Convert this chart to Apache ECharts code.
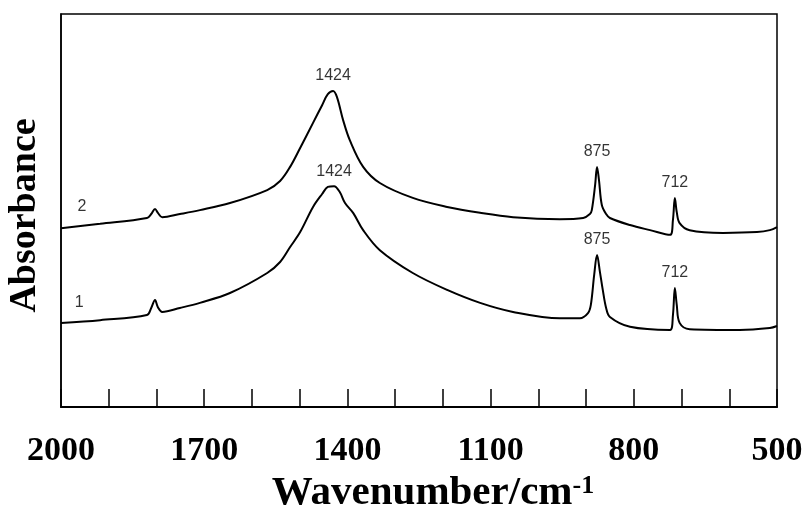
<!DOCTYPE html>
<html style="height: 100%">
<head>
    <meta charset="utf-8">
    <script src="https://cdn.jsdelivr.net/npm/echarts@6/dist/echarts.min.js"></script>
</head>
<body style="height:100%;margin:0;background:#fff">
    <div id="main" style="width:802px;height:510px;"></div>
    <script type="text/javascript">

        // wavenumber (cm-1) for each traced point
        var wn2 = [2000, 1918, 1820, 1811, 1803, 1797, 1788, 1751, 1709, 1646, 1568, 1541, 1520, 1499, 1472, 1453, 1441, 1430,
                   1422, 1409, 1395, 1367, 1332, 1263, 1191, 1122, 1053, 955, 906, 892, 888, 881, 877, 873, 867, 858, 850,
                   808, 766, 724, 718, 714, 710, 704, 683, 613, 542, 515, 500];
        // curve 2 absorbance
        var abs2 = [0.455, 0.466, 0.481, 0.491, 0.504, 0.494, 0.483, 0.491, 0.501, 0.519, 0.552, 0.575, 0.611, 0.659, 0.723, 0.768, 0.796, 0.804,
                    0.789, 0.730, 0.679, 0.611, 0.570, 0.532, 0.509, 0.494, 0.483, 0.478, 0.481, 0.491, 0.501, 0.565, 0.611, 0.578, 0.514, 0.491, 0.481,
                    0.463, 0.450, 0.438, 0.476, 0.532, 0.496, 0.468, 0.450, 0.443, 0.445, 0.450, 0.458];

        var wn1 = [2000, 1918, 1820, 1811, 1803, 1797, 1788, 1751, 1709, 1646, 1568, 1541, 1520, 1499, 1472, 1453, 1441, 1428,
                   1416, 1405, 1388, 1367, 1332, 1263, 1191, 1122, 1053, 955, 913, 896, 890, 883, 877, 871, 865, 858, 850,
                   808, 724, 718, 714, 710, 704, 683, 578, 515, 500];
        // curve 1 absorbance
        var abs1 = [0.214, 0.221, 0.234, 0.252, 0.272, 0.254, 0.242, 0.252, 0.265, 0.290, 0.341, 0.369, 0.407, 0.445, 0.509, 0.542, 0.560, 0.562,
                    0.547, 0.519, 0.494, 0.450, 0.399, 0.341, 0.298, 0.265, 0.242, 0.226, 0.226, 0.239, 0.260, 0.336, 0.387, 0.344, 0.298, 0.252, 0.229,
                    0.204, 0.196, 0.234, 0.303, 0.260, 0.214, 0.198, 0.196, 0.201, 0.206];

        // peak annotations: [wavenumber, absorbance, text]
        var peaks = [
            [1430, 0.804, '1424'], [877, 0.611, '875'], [714, 0.532, '712'],
            [1428, 0.562, '1424'], [877, 0.387, '875'], [714, 0.303, '712']
        ];
        // curve numbers
        var curveNames = [[1956, 0.509, '2'], [1962, 0.265, '1']];

        var tickLabels = ['2000', '1700', '1400', '1100', '800', '500'];

        function pairs(xs, ys) {
            return xs.map(function (x, i) { return [x, ys[i]]; });
        }

        var myChart = echarts.init(document.getElementById('main'));
        var serif = '"Liberation Serif", "Times New Roman", serif';
        var sans = '"Liberation Sans", Arial, sans-serif';

        option = {
            animation: false,
            grid: {
                left: 61, right: 25, top: 14, bottom: 103,
                outerBoundsMode: 'none',
                containLabel: false,
                show: true, borderColor: '#000', borderWidth: 1.5
            },
            xAxis: {
                type: 'value',
                inverse: true,
                min: 500, max: 2000, interval: 100,
                name: '{a|Wavenumber/cm}{b|-1}',
                nameLocation: 'middle',
                nameGap: 60,
                nameTextStyle: {
                    padding: [0, 0, 0, 28],
                    rich: {
                        a: { fontFamily: serif, fontWeight: 'bold', fontSize: 41, color: '#000', lineHeight: 41 },
                        b: { fontFamily: serif, fontWeight: 'bold', fontSize: 26, color: '#000', verticalAlign: 'top', lineHeight: 41 }
                    }
                },
                axisLine: { lineStyle: { color: '#000', width: 2 } },
                axisTick: { inside: true, length: 18, lineStyle: { color: '#000', width: 1.5 } },
                axisLabel: {
                    margin: 27,
                    fontFamily: serif, fontWeight: 'bold', fontSize: 34, color: '#000',
                    showMinLabel: true, showMaxLabel: true,
                    formatter: function (v) {
                        return tickLabels.indexOf(String(v)) >= 0 ? String(v) : '';
                    }
                },
                splitLine: { show: false }
            },
            yAxis: {
                type: 'value',
                min: 0, max: 1,
                name: 'Absorbance',
                nameLocation: 'middle',
                nameGap: 17,
                nameTextStyle: {
                    fontFamily: serif, fontWeight: 'bold', fontSize: 38, color: '#000',
                    padding: [0, 10, 0, 0]
                },
                axisLine: { show: true, lineStyle: { color: '#000', width: 1.5 } },
                axisTick: { show: false },
                axisLabel: { show: false },
                splitLine: { show: false }
            },
            series: [
                {
                    name: '2', type: 'line', data: pairs(wn2, abs2),
                    showSymbol: false, smooth: 0.35,
                    lineStyle: { color: '#000', width: 2 }
                },
                {
                    name: '1', type: 'line', data: pairs(wn1, abs1),
                    showSymbol: false, smooth: 0.35,
                    lineStyle: { color: '#000', width: 2 }
                },
                {
                    type: 'scatter', data: peaks, symbolSize: 0,
                    label: {
                        show: true, position: 'top', distance: 7,
                        fontFamily: sans, fontSize: 16, color: '#000',
                        formatter: function (p) { return p.data[2]; }
                    }
                },
                {
                    type: 'scatter', data: curveNames, symbolSize: 0,
                    label: {
                        show: true, position: 'inside',
                        fontFamily: sans, fontSize: 16, color: '#000',
                        formatter: function (p) { return p.data[2]; }
                    }
                }
            ]
        };
        myChart.setOption(option);
    </script>
</body>
</html>
